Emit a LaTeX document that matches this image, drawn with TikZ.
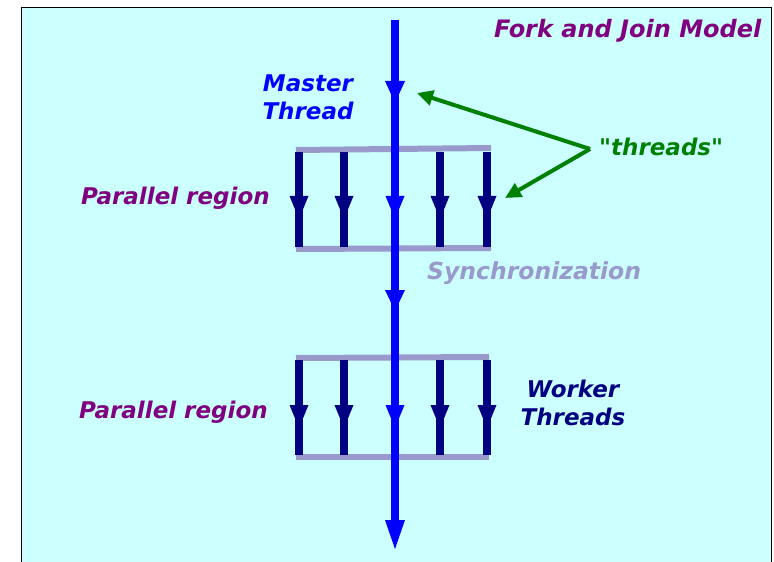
\documentclass[tikz,border=0pt]{standalone}
\usepackage{fontspec}
\setmainfont{DejaVu Sans}[BoldItalicFont={DejaVu Sans Bold Oblique},ItalicFont={DejaVu Sans Oblique},BoldFont={DejaVu Sans Bold}]
\usetikzlibrary{arrows.meta}
\definecolor{bgcyan}{HTML}{CCFFFF}
\definecolor{mpurple}{HTML}{800080}
\definecolor{mblue}{HTML}{0000FF}
\definecolor{mnavy}{HTML}{000080}
\definecolor{mlav}{HTML}{9999CC}
\definecolor{mgreen}{HTML}{008000}
% downward triangle tip: colour, x, y of tip, half width, length
\newcommand\mydowntip[5]{\fill[#1] ({#2-#4},{#3-#5}) -- ({#2+#4},{#3-#5}) -- (#2,#3) -- cycle;}
\begin{document}
\begin{tikzpicture}[x=1bp,y=-1bp,
  lbl/.style={font=\fontsize{23bp}{27bp}\selectfont\bfseries\itshape, inner sep=0pt},
  mainline/.style={draw=mblue, line width=8bp},
  subline/.style={draw=mnavy, line width=8bp},
  bar/.style={draw=mlav, line width=6bp},
  greenarrow/.style={draw=mgreen, line width=4bp, -{Triangle[width=15bp,length=16bp]}}
]
\useasboundingbox (0,0) rectangle (774,562);
\fill[white] (0,0) rectangle (774,562);
\filldraw[fill=bgcyan, draw=black, line width=1bp] (21,8) -- (771,8) -- (771,575) -- (21,575) -- cycle;

% master thread coordinates
\coordinate (mtop) at (395,20);
\coordinate (mend) at (395,530);

% bars
\draw[bar] (296,150) coordinate (b1l) -- (491,148) coordinate (b1r);
\draw[bar] (296,249) coordinate (b2l) -- (491,248) coordinate (b2r);
\draw[bar] (296,358) coordinate (b3l) -- (489,357) coordinate (b3r);
\draw[bar] (296,457) coordinate (b4l) -- (489,457) coordinate (b4r);

% worker threads
\foreach \x [count=\i] in {299,344,440,487}{
  \coordinate (pa\i) at (\x,152);
  \coordinate (pc\i) at (\x,247);
  \draw[subline] (pa\i) -- (pc\i);
  \mydowntip{mnavy}{\x}{219}{9.5}{23}
  \coordinate (qa\i) at (\x,360);
  \coordinate (qc\i) at (\x,455);
  \draw[subline] (qa\i) -- (qc\i);
  \mydowntip{mnavy}{\x}{428}{9.5}{23}
}

% master thread
\draw[mainline] (mtop) -- (mend);
\mydowntip{mblue}{395}{103}{10}{22}
\mydowntip{mblue}{395}{219}{9.5}{23}
\mydowntip{mblue}{395}{311}{10}{21}
\mydowntip{mblue}{395}{428}{9.5}{23}
\mydowntip{mblue}{395}{549}{10}{29}

% labels
\node[lbl, text=mpurple, anchor=base west, font=\fontsize{24bp}{28bp}\selectfont\bfseries\itshape] (title) at (494,38) {Fork and Join Model};
\node[lbl, text=mblue, anchor=base] (master1) at (308,92) {Master};
\node[lbl, text=mblue, anchor=base] (master2) at (308,120) {Thread};
\node[lbl, text=mpurple, anchor=base west] (par1) at (81,205) {Parallel region};
\node[lbl, text=mpurple, anchor=base west] (par2) at (79,418) {Parallel region};
\node[lbl, text=mlav, anchor=base west, font=\fontsize{23.5bp}{28bp}\selectfont\bfseries\itshape] (sync) at (427,280) {Synchronization};
\node[lbl, text=mnavy, anchor=base] (worker1) at (573,397) {Worker};
\node[lbl, text=mnavy, anchor=base] (worker2) at (573,425) {Threads};
\node[lbl, text=mgreen, anchor=base west] (thr) at (599,156) {\textquotedbl threads\textquotedbl};

% green arrows
\coordinate (apex) at (590,149);
\coordinate (tipA) at (417,93);
\coordinate (tipB) at (505,198);
\draw[greenarrow] (apex) -- (tipA);
\draw[greenarrow] (apex) -- (tipB);
\end{tikzpicture}
\end{document}
